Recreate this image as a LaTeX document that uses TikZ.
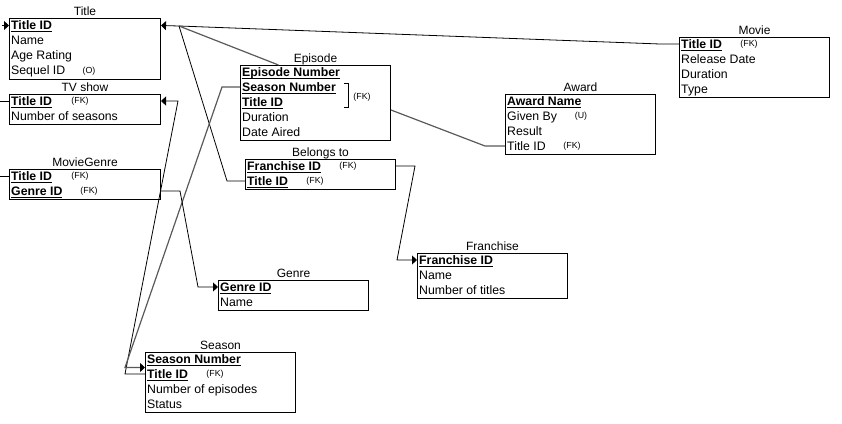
\documentclass[tikz,border=0pt]{standalone}
\usepackage{fontspec}
\setmainfont{Liberation Sans}
\usetikzlibrary{arrows.meta}
\usetikzlibrary{calc}

\newcommand{\pk}[1]{\setbox0\hbox{\bfseries #1}\rlap{\rule[-2.2pt]{\wd0}{1pt}}\box0}

\tikzset{
tbl/.style={draw, line width=1pt, anchor=north west, inner sep=0pt},
hdr/.style={anchor=base, inner sep=0pt, font=\fontsize{12}{14}\selectfont},
fld/.style={anchor=west, inner sep=0pt, text height=8.6pt, text depth=0pt, font=\fontsize{12.3}{14}\selectfont},
tag/.style={inner sep=0pt, font=\fontsize{8.8}{10}\selectfont},
link/.style={draw, line width=0.8pt},
linkg/.style={draw, line width=1.2pt, color=black!65},
arr/.style={-{Triangle[length=5pt,width=9pt,color=black]}},
rarr/.style={{Triangle[length=5pt,width=9pt,color=black]}-}
}

\begin{document}
\begin{tikzpicture}[x=1pt,y=-1pt]
\useasboundingbox (0,0) rectangle (842,423);

% Title
\node[tbl,minimum width=151pt,minimum height=61pt] (title) at (9,18) {};
\node[hdr] at ([yshift=3pt]title.north) {Title};
\node[fld] (title-tid) at (11,25.5) {\pk{Title ID}};
\node[fld] at (11,40.5) {Name};
\node[fld] at (11,55.5) {Age Rating};
\node[fld] at (11,70.5) {Sequel ID};
\node[tag] at (89,71) {(O)};

% TV show
\node[tbl,minimum width=151pt,minimum height=30pt] (tvshow) at (9,94) {};
\node[hdr] at ([yshift=3pt]tvshow.north) {TV show};
\node[fld] (tv-tid) at (11,101) {\pk{Title ID}};
\node[fld] at (11,116) {Number of seasons};
\node[tag] at (80,101) {(FK)};

% MovieGenre
\node[tbl,minimum width=151pt,minimum height=30pt] (moviegenre) at (9,169) {};
\node[hdr] at ([yshift=3pt]moviegenre.north) {MovieGenre};
\node[fld] (mg-tid) at (11,176) {\pk{Title ID}};
\node[fld] (mg-gid) at (11,191) {\pk{Genre ID}};
\node[tag] at (80,176) {(FK)};
\node[tag] at (89,191) {(FK)};

% Episode
\node[tbl,minimum width=150pt,minimum height=75pt] (episode) at (240,65) {};
\node[hdr] at ([yshift=3pt]episode.north) {Episode};
\node[fld] at (242,72) {\pk{Episode Number}};
\node[fld] (ep-sn) at (242,87) {\pk{Season Number}};
\node[fld] at (242,102) {\pk{Title ID}};
\node[fld] at (242,117) {Duration};
\node[fld] at (242,132) {Date Aired};
\draw[line width=0.8pt] (344,83) -- (348,83) -- (348,107) -- (344,107);
\node[tag] at (362,97) {(FK)};

% Belongs to
\node[tbl,minimum width=150pt,minimum height=30pt] (belongs) at (245,159) {};
\node[hdr] at ([yshift=3pt]belongs.north) {Belongs to};
\node[fld] (bt-fid) at (247,166) {\pk{Franchise ID}};
\node[fld] (bt-tid) at (247,181) {\pk{Title ID}};
\node[tag] at (348,166) {(FK)};
\node[tag] at (315,181) {(FK)};

% Award
\node[tbl,minimum width=150pt,minimum height=60pt] (award) at (505,94) {};
\node[hdr] at ([yshift=3pt]award.north) {Award};
\node[fld] at (507,101) {\pk{Award Name}};
\node[fld] at (507,116) {Given By};
\node[fld] at (507,131) {Result};
\node[fld] (aw-tid) at (507,146) {Title ID};
\node[tag] at (581,116) {(U)};
\node[tag] at (572,146) {(FK)};

% Movie
\node[tbl,minimum width=150pt,minimum height=60pt] (movie) at (679,37) {};
\node[hdr] at ([yshift=3pt]movie.north) {Movie};
\node[fld] (mv-tid) at (681,44) {\pk{Title ID}};
\node[fld] at (681,59) {Release Date};
\node[fld] at (681,74) {Duration};
\node[fld] at (681,89) {Type};
\node[tag] at (749,44) {(FK)};

% Franchise
\node[tbl,minimum width=150pt,minimum height=45pt] (franchise) at (417,253) {};
\node[hdr] at ([yshift=3pt]franchise.north) {Franchise};
\node[fld] (fr-fid) at (419,260) {\pk{Franchise ID}};
\node[fld] at (419,275) {Name};
\node[fld] at (419,290) {Number of titles};

% Genre
\node[tbl,minimum width=150pt,minimum height=30pt] (genre) at (218,280) {};
\node[hdr] at ([yshift=3pt]genre.north) {Genre};
\node[fld] (ge-gid) at (220,287) {\pk{Genre ID}};
\node[fld] at (220,302) {Name};

% Season
\node[tbl,minimum width=150pt,minimum height=60pt] (season) at (145,352) {};
\node[hdr] at ([yshift=3pt]season.north) {Season};
\node[fld] (se-sn) at (147,359) {\pk{Season Number}};
\node[fld] (se-tid) at (147,374) {\pk{Title ID}};
\node[fld] at (147,389) {Number of episodes};
\node[fld] at (147,404) {Status};
\node[tag] at (215,374) {(FK)};

% connectors
\coordinate (tj) at (179,26);
\draw[link,arr] (movie.west |- mv-tid) -- ++(-19,0) -- (tj) -- (title.east |- title-tid);
\draw[linkg] (tj) -- ([xshift=-37pt]episode.north);
\draw[link] (belongs.west |- bt-tid) -- ++(-18,0) -- (tj);
\draw[link,rarr] (tvshow.east |- tv-tid) -- ++(17,0) -- ($(season.west |- se-tid)+(-20,0)$) -- (season.west |- se-tid);
\draw[linkg,arr] (episode.west |- ep-sn) -- ++(-18,0) -- ($([yshift=15pt]season.west)+(-20,0)$) -- ([yshift=15pt]season.west);
\draw[link,arr] (moviegenre.east |- mg-gid) -- ++(19,0) -- ($(genre.west |- ge-gid)+(-20,0)$) -- (genre.west |- ge-gid);
\draw[link,arr] (belongs.east |- bt-fid) -- ++(19,0) -- ($(franchise.west |- fr-fid)+(-20,0)$) -- (franchise.west |- fr-fid);
\draw[linkg] ([yshift=-7pt]episode.east) -- ($(award.west |- aw-tid)+(-20,0)$) -- (award.west |- aw-tid);

% stubs on the left edge
\coordinate (lt) at (2,25.5);
\coordinate (ltv) at (0,101);
\coordinate (lmg) at (0,176);
\draw[link,arr] (lt) -- (title.west |- title-tid);
\draw[link] (ltv) -- (tvshow.west |- tv-tid);
\draw[link] (lmg) -- (moviegenre.west |- mg-tid);

\end{tikzpicture}
\end{document}
